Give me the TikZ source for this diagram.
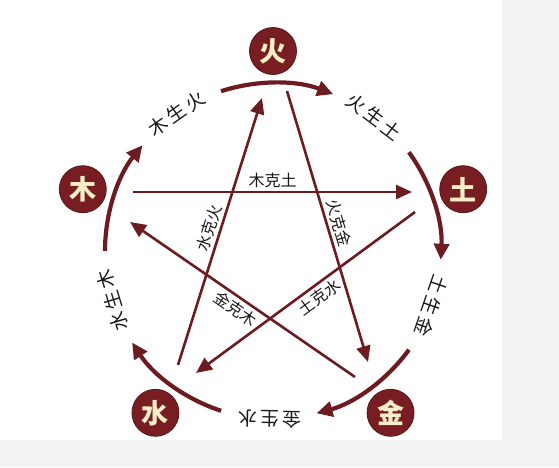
\documentclass[tikz,border=0pt]{standalone}
\usepackage{fontspec}
\newfontfamily\cjk{Noto Sans CJK SC}
\usetikzlibrary{arrows.meta}
\definecolor{maroon}{RGB}{108,28,33}
\definecolor{nodefill}{RGB}{120,30,35}
\definecolor{cream}{RGB}{248,238,200}
\definecolor{ink}{RGB}{25,25,25}
\begin{document}
\begin{tikzpicture}[x=1pt,y=1pt,
  elem/.style={circle,fill=nodefill,draw=maroon!80!black,line width=0.8pt,minimum size=47pt,inner sep=0pt,text=cream,font=\cjk\bfseries\fontsize{27}{27}\selectfont},
  sheng/.style={line width=4.2pt,draw=maroon,-{Triangle[length=16pt,width=15pt]}},
  kearrow/.style={line width=2.6pt,draw=maroon,-{Triangle[length=16pt,width=14pt]}},
  slabel/.style={text=ink,font=\cjk\fontsize{19}{19}\selectfont,inner sep=0pt},
  klabel/.style={text=ink,font=\cjk\fontsize{16}{16}\selectfont,inner sep=3pt}]
\useasboundingbox (-273,-216) rectangle (286,251);
\fill[black!5] (-273,-216) rectangle (286,251);
\fill[white] (-273,-189) rectangle (229,251);

% element nodes
\node[elem] (huo) at (90:200) {火};
\node[elem] (tu) at (18:200) {土};
\node[elem] (jin) at (-54:200) {金};
\node[elem] (shui) at (-126:200) {水};
\node[elem] (mu) at (162:200) {木};

% generating cycle arcs
\foreach \t/\n in {90/a1,18/a2,-54/a3,-126/a4,162/a5}{
  \coordinate (\n) at ({\t+18}:168);
  \draw[sheng] (\n) arc[start angle={\t+18},end angle={\t-21},radius=168];
}

% generating labels
\node[slabel,rotate=-37] (l1) at (53:168) {火\hspace{3pt}生\hspace{3pt}土};
\node[slabel,rotate=-109] (l2) at (-19:168) {土\hspace{3pt}生\hspace{3pt}金};
\node[slabel,rotate=-181] (l3) at (-91:168) {金\hspace{3pt}生\hspace{3pt}水};
\node[slabel,rotate=107] (l4) at (-163:168) {水\hspace{3pt}生\hspace{3pt}木};
\node[slabel,rotate=35] (l5) at (125:168) {木\hspace{3pt}生\hspace{3pt}火};

% controlling star
\coordinate (ks) at (-140,59);
\coordinate (ke) at (139,59);
\coordinate (ts) at (142,39);
\coordinate (te) at (-77,-122);
\coordinate (ss) at (-95,-114);
\coordinate (se) at (-11,153);
\coordinate (hs) at (14,160);
\coordinate (he) at (95,-111);
\coordinate (js) at (82,-126);
\coordinate (je) at (-143,29);

\draw[kearrow] (ks) -- node[klabel,above] (k1) {木克土} (ke);
\draw[kearrow] (ts) -- node[klabel,sloped,below,pos=0.47] (k2) {土克水} (te);
\draw[kearrow] (ss) -- node[klabel,sloped,above] (k3) {水克火} (se);
\draw[kearrow] (hs) -- node[klabel,sloped,above] (k4) {火克金} (he);
\draw[kearrow] (js) -- node[klabel,sloped,below] (k5) {金克木} (je);
\end{tikzpicture}
\end{document}
